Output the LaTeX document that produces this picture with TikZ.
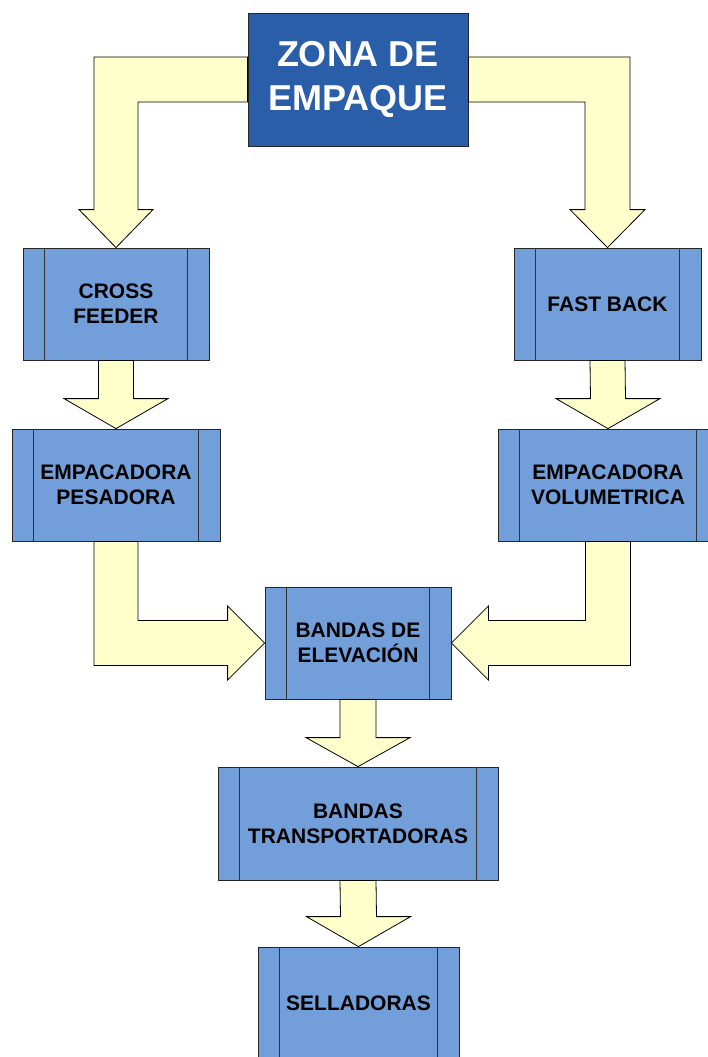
\documentclass[tikz,border=0pt]{standalone}
\usepackage{fontspec}
\usepackage{graphicx}
\setmainfont{Liberation Sans}
\usetikzlibrary{calc}

\definecolor{zonablue}{HTML}{2A5EA8}
\definecolor{procblue}{HTML}{729FDA}
\definecolor{flowyellow}{HTML}{FFFFCC}

% straight block arrow pointing down: #1 source node, #2 target node,
% #3 shaft half width, #4 head half width, #5 head length
\newcommand\blockdown[5]{%
  \draw[flow] ($(#1.south)+(-#3,0)$) -- ($(#2.north)+(-#3,-#5)$)
    -- ($(#2.north)+(-#4,-#5)$) -- (#2.north) -- ($(#2.north)+(#4,-#5)$)
    -- ($(#2.north)+(#3,-#5)$) -- ($(#1.south)+(#3,0)$) -- cycle;}

\begin{document}
\begin{tikzpicture}[x=1pt,y=-1pt,
  flow/.style={draw=black, line width=0.8pt, fill=flowyellow, line join=miter},
  procbox/.style={draw=black!85, line width=0.8pt, fill=procblue, inner sep=0pt,
    minimum height=112pt, align=center,
    font=\fontsize{21}{25}\selectfont\bfseries},
  zonabox/.style={draw=black!85, line width=0.8pt, fill=zonablue, inner sep=0pt,
    minimum width=220pt, minimum height=133pt, align=center, text=white,
    font=\fontsize{36}{44}\selectfont\bfseries}]

\useasboundingbox (0,0) rectangle (707,1057);

% boxes
\node[zonabox] (zona) at (358,79.5)
  {\raisebox{2.5pt}{\begin{tabular}{@{}c@{}}ZONA DE\\EMPAQUE\end{tabular}}};
\node[procbox, minimum width=186pt] (cross) at (116,304) {CROSS\\FEEDER};
\node[procbox, minimum width=187pt] (fast) at (607.5,304) {FAST BACK};
\node[procbox, minimum width=208pt] (pes) at (116,485) {EMPACADORA\\PESADORA};
\node[procbox, minimum width=220pt] (vol) at (608,485) {EMPACADORA\\VOLUMETRICA};
\node[procbox, minimum width=186pt] (elev) at (358,643) {BANDAS DE\\ELEVACIÓN};
\node[procbox, minimum width=280pt, minimum height=113pt] (trans) at (358,823.5) {BANDAS\\TRANSPORTADORAS};
\node[procbox, minimum width=201pt] (sell) at (358.5,1003) {SELLADORAS};

% side bars of the process boxes
\foreach \n in {cross,fast,pes,vol,elev,trans,sell}{
  \draw[black!80, line width=0.8pt] ($(\n.north west)+(22,0)$) -- ($(\n.south west)+(22,0)$);
  \draw[black!80, line width=0.8pt] ($(\n.north east)+(-22,0)$) -- ($(\n.south east)+(-22,0)$);
}

% bent arrows from the packing zone
\draw[flow] ($(zona.west)+(0,-22.5)$) -- ($(cross.north |- zona.west)+(-22,-22.5)$)
  -- ($(cross.north)+(-22,-38)$) -- ($(cross.north)+(-37,-38)$) -- (cross.north)
  -- ($(cross.north)+(37,-38)$) -- ($(cross.north)+(22,-38)$)
  -- ($(cross.north |- zona.west)+(22,22.5)$) -- ($(zona.west)+(0,22.5)$) -- cycle;
\draw[flow] ($(zona.east)+(0,-22.5)$) -- ($(fast.north |- zona.east)+(22.5,-22.5)$)
  -- ($(fast.north)+(22.5,-38)$) -- ($(fast.north)+(37.5,-38)$) -- (fast.north)
  -- ($(fast.north)+(-37.5,-38)$) -- ($(fast.north)+(-22.5,-38)$)
  -- ($(fast.north |- zona.east)+(-22.5,22.5)$) -- ($(zona.east)+(0,22.5)$) -- cycle;

% straight arrows
\blockdown{cross}{pes}{17.5}{52}{30}
\blockdown{fast}{vol}{17.5}{52}{30}
\blockdown{elev}{trans}{18}{52}{29}
\blockdown{trans}{sell}{18}{52}{30}

% bent arrows into the elevation belts
\draw[flow] ($(pes.south)+(-22,0)$) -- ($(pes.south |- elev.west)+(-22,22.5)$)
  -- ($(elev.west)+(-37,22.5)$) -- ($(elev.west)+(-37,37)$) -- (elev.west)
  -- ($(elev.west)+(-37,-37)$) -- ($(elev.west)+(-37,-22.5)$)
  -- ($(pes.south |- elev.west)+(22,-22.5)$) -- ($(pes.south)+(22,0)$) -- cycle;
\draw[flow] ($(vol.south)+(22.5,0)$) -- ($(vol.south |- elev.east)+(22.5,22.5)$)
  -- ($(elev.east)+(37,22.5)$) -- ($(elev.east)+(37,37)$) -- (elev.east)
  -- ($(elev.east)+(37,-37)$) -- ($(elev.east)+(37,-22.5)$)
  -- ($(vol.south |- elev.east)+(-22.5,-22.5)$) -- ($(vol.south)+(-22.5,0)$) -- cycle;
\end{tikzpicture}
\end{document}
